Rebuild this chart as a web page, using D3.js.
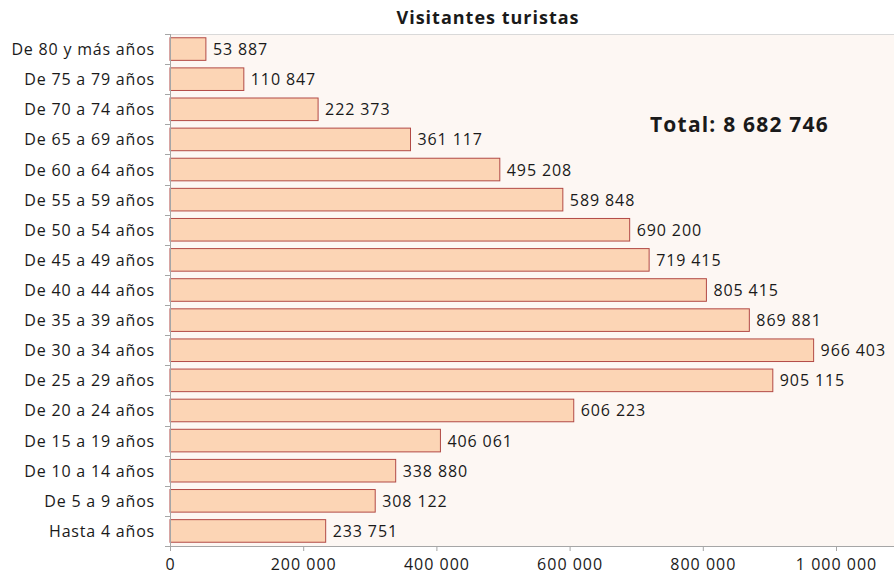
<!DOCTYPE html>
<html>
<head>
<meta charset="utf-8">
<script src="https://cdn.jsdelivr.net/npm/d3@7"></script>
<style>
  body { margin: 0; background: #fff; }
  text { font-family: "Open Sans", sans-serif; fill: #1a1a1a; }
</style>
</head>
<body>
<div id="chart"></div>
<script>
var categories = [
  "De 80 y más años", "De 75 a 79 años", "De 70 a 74 años", "De 65 a 69 años",
  "De 60 a 64 años", "De 55 a 59 años", "De 50 a 54 años", "De 45 a 49 años",
  "De 40 a 44 años", "De 35 a 39 años", "De 30 a 34 años", "De 25 a 29 años",
  "De 20 a 24 años", "De 15 a 19 años", "De 10 a 14 años", "De 5 a 9 años",
  "Hasta 4 años"
];
var visitors = [
  53887, 110847, 222373, 361117, 495208, 589848, 690200, 719415,
  805415, 869881, 966403, 905115, 606223, 406061, 338880, 308122, 233751
];
var xTicks = [0, 200000, 400000, 600000, 800000, 1000000];
var title = "Visitantes turistas";
var totalLabel = "Total: 8 682 746";

var W = 894, H = 575;
var plot = { left: 170, right: 894, top: 34, bottom: 546 };

var locale = d3.formatLocale({ decimal: ",", thousands: " ", grouping: [3], currency: ["", ""] });
var fmt = locale.format(",d");

var svg = d3.select("#chart").append("svg")
    .attr("width", W)
    .attr("height", H);

// plot background
svg.append("rect")
    .attr("x", plot.left)
    .attr("y", plot.top)
    .attr("width", plot.right - plot.left)
    .attr("height", plot.bottom - plot.top)
    .attr("fill", "#fdf7f3");

svg.append("line")
    .attr("x1", plot.left).attr("x2", plot.right)
    .attr("y1", plot.top + 0.5).attr("y2", plot.top + 0.5)
    .attr("stroke", "#d9d9d9");

var x = d3.scaleLinear()
    .domain([0, 1000000])
    .range([plot.left, 836]);

var y = d3.scaleBand()
    .domain(categories)
    .range([plot.top, plot.bottom])
    .paddingInner(0.25)
    .paddingOuter(0.125);

// bars
svg.append("g").selectAll("rect")
    .data(visitors)
  .enter().append("rect")
    .attr("x", x(0))
    .attr("y", function(d, i) { return y(categories[i]); })
    .attr("width", function(d) { return x(d) - x(0); })
    .attr("height", y.bandwidth())
    .attr("fill", "#fcd5b5")
    .attr("stroke", "#b24a46")
    .attr("stroke-width", 1);

// value labels
svg.append("g").selectAll("text")
    .data(visitors)
  .enter().append("text")
    .attr("x", function(d) { return x(d) + 7; })
    .attr("y", function(d, i) { return y(categories[i]) + y.bandwidth() / 2; })
    .attr("dominant-baseline", "central")
    .attr("font-size", 16)
    .attr("letter-spacing", 0.9)
    .text(function(d) { return fmt(d); });

// left axis: category labels with ticks between bands
var left = svg.append("g");
left.append("line")
    .attr("x1", plot.left + 0.5).attr("x2", plot.left + 0.5)
    .attr("y1", plot.top).attr("y2", plot.bottom + 5)
    .attr("stroke", "#a6a6a6");
var step = y.step();
left.selectAll("line.tick")
    .data(d3.range(categories.length + 1))
  .enter().append("line")
    .attr("class", "tick")
    .attr("x1", plot.left - 5).attr("x2", plot.left)
    .attr("y1", function(i) { return Math.round(plot.top + i * step) + 0.5; })
    .attr("y2", function(i) { return Math.round(plot.top + i * step) + 0.5; })
    .attr("stroke", "#a6a6a6");
left.selectAll("text")
    .data(categories)
  .enter().append("text")
    .attr("x", plot.left - 15)
    .attr("y", function(d) { return y(d) + y.bandwidth() / 2; })
    .attr("text-anchor", "end")
    .attr("dominant-baseline", "central")
    .attr("font-size", 16)
    .attr("letter-spacing", 0.8)
    .text(function(d) { return d; });

// bottom axis
var xAxis = d3.axisBottom(x)
    .tickValues(xTicks)
    .tickSize(5)
    .tickSizeOuter(0)
    .tickFormat(fmt);
var gx = svg.append("g")
    .attr("transform", "translate(0," + plot.bottom + ")")
    .call(xAxis);
gx.select(".domain").remove();
gx.append("line")
    .attr("x1", plot.left).attr("x2", plot.right)
    .attr("y1", 0.5).attr("y2", 0.5)
    .attr("stroke", "#a6a6a6");
gx.selectAll(".tick line").attr("stroke", "#a6a6a6");
gx.selectAll(".tick text")
    .attr("font-family", "Open Sans, sans-serif")
    .attr("font-size", 16)
    .attr("letter-spacing", 1)
    .attr("fill", "#1a1a1a")
    .attr("dy", "0.98em");

// title
svg.append("text")
    .attr("x", 488)
    .attr("y", 24)
    .attr("text-anchor", "middle")
    .attr("font-size", 18)
    .attr("font-weight", "bold")
    .attr("letter-spacing", 1)
    .text(title);

// total annotation
svg.append("text")
    .attr("x", 650)
    .attr("y", 132)
    .attr("font-size", 21)
    .attr("font-weight", "bold")
    .attr("letter-spacing", 1.2)
    .text(totalLabel);
</script>
</body>
</html>
